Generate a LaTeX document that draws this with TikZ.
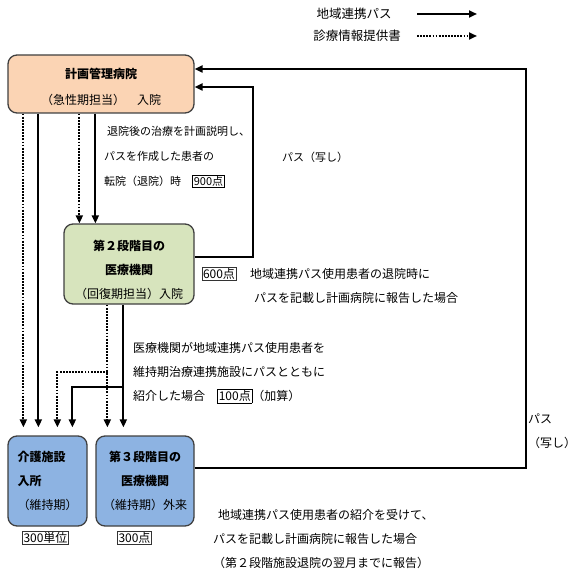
\documentclass[tikz,border=0pt]{standalone}
\usepackage{fontspec}
\setmainfont{Noto Sans CJK JP}
\usepackage{tikz}
\usetikzlibrary{arrows.meta,calc}
\definecolor{acutefill}{RGB}{251,212,180}
\definecolor{recovfill}{RGB}{215,228,189}
\definecolor{maintfill}{RGB}{141,179,226}
\definecolor{boxline}{RGB}{64,64,64}
\setlength{\fboxsep}{1pt}
\setlength{\fboxrule}{0.6pt}

\begin{document}
\begin{tikzpicture}[x=1pt, y=-1pt,
    ward/.style={rectangle, rounded corners=9pt, draw=boxline, line width=1.3pt, align=center,
                 inner sep=0pt, font=\fontsize{12}{24}\selectfont},
    acute/.style={ward, fill=acutefill, minimum width=186pt, minimum height=58pt,
                  font=\fontsize{12}{26}\selectfont},
    recov/.style={ward, fill=recovfill, minimum width=130pt, minimum height=80pt},
    maint/.style={ward, fill=maintfill, minimum width=98pt, minimum height=90pt},
    carehome/.style={maint, minimum width=79pt, align=left, text width=60pt},
    note/.style={anchor=west, align=left, inner sep=0pt, font=\fontsize{12}{24}\selectfont},
    smallnote/.style={note, font=\fontsize{11}{25}\selectfont},
    score/.style={draw=black!80, line width=0.6pt, inner sep=1pt, font=\fontsize{12}{14}\selectfont},
    legend/.style={font=\fontsize{12.5}{14}\selectfont},
    pathline/.style={line width=2.2pt, -{Triangle[length=8pt,width=7pt]}},
    infoline/.style={pathline, dash pattern=on 1.8pt off 1.3pt}
]
    \useasboundingbox (0,0) rectangle (580,569);

    % legend
    \node[legend] (legpath) at (354,14) {地域連携パス};
    \node[legend] (leginfo) at (357,36) {診療情報提供書};
    \coordinate (legpathA) at (417,14);
    \coordinate (legpathB) at (477,14);
    \coordinate (leginfoA) at (417,36);
    \coordinate (leginfoB) at (477,36);
    \draw[pathline] (legpathA) -- (legpathB);
    \draw[infoline] (leginfoA) -- (leginfoB);

    % facilities
    \node[acute] (plan) at (101,84) {\rule{0pt}{16pt}\textbf{計画管理病院}\\（急性期担当）　入院};
    \node[recov] (stage2) at (129,264) {\rule{0pt}{23pt}\textbf{第２段階目の}\\\textbf{医療機関}\\（回復期担当）入院};
    \node[carehome] (care) at (47.5,481) {\textbf{介護施設}\\\textbf{入所}\\（維持期）};
    \node[maint] (stage3) at (145,481) {\textbf{第３段階目の}\\\textbf{医療機関}\\（維持期）外来};

    \node[score] (carepts) at (45.5,538) {300単位};
    \node[score] (stage3pts) at (134.5,538) {300点};
    \node[score] (stage2pts) at (219,274) {600点};

    % texts
    \node[smallnote] (explain) at (104,157) {\hspace{3pt}退院後の治療を計画説明し、\\パスを作成した患者の\\転院（退院）時　\fbox{900点}};
    \node[smallnote, anchor=center] (copyA) at (315,157) {パス（写し）};
    \node[note] (reportA) at (250,286) {地域連携パス使用患者の退院時に\\\hspace{4pt}パスを記載し計画病院に報告した場合};
    \node[note] (refer) at (133,373) {医療機関が地域連携パス使用患者を\\維持期治療連携施設にパスとともに\\紹介した場合　\fbox{100点}（加算）};
    \node[note] (copyB) at (528,431) {パス\\（写し）};
    \node[note] (reportB) at (213,539) {\hspace{5pt}地域連携パス使用患者の紹介を受けて、\\パスを記載し計画病院に報告した場合\\（第２段階施設退院の翌月までに報告）};

    % plan -> care
    \draw[infoline, shorten >=8pt] ([xshift=16pt]plan.south west) -- ([xshift=16pt]care.north west);
    \draw[pathline, shorten >=8pt] ([xshift=31pt]plan.south west) -- ([xshift=31pt]care.north west);
    % plan -> stage2
    \draw[infoline] ([xshift=16pt]stage2.north west |- plan.south) -- ([xshift=16pt]stage2.north west);
    \draw[pathline] ([xshift=32pt]stage2.north west |- plan.south) -- ([xshift=32pt]stage2.north west);
    % stage2 -> stage3 and care
    \draw[infoline, shorten >=8pt] ([xshift=12pt]stage3.north west |- stage2.south) -- ([xshift=12pt]stage3.north west);
    \draw[pathline, shorten >=8pt] ([xshift=28pt]stage3.north west |- stage2.south) -- ([xshift=28pt]stage3.north west);
    \coordinate (infosplit) at (108,372);
    \coordinate (pathsplit) at (124,387);
    \draw[infoline, shorten >=8pt] (infosplit) -| ([xshift=50pt]care.north west);
    \draw[pathline, shorten >=8pt] (pathsplit) -| ([xshift=65pt]care.north west);
    % reports back to plan
    \coordinate (loopA) at (253,170);
    \coordinate (loopB) at (526,300);
    \draw[pathline] ([yshift=7pt]stage2.east) -| (loopA) |- ([yshift=-3pt]plan.east);
    \draw[pathline] ([yshift=13pt]stage3.east) -| (loopB) |- ([yshift=15pt]plan.east);
\end{tikzpicture}
\end{document}
